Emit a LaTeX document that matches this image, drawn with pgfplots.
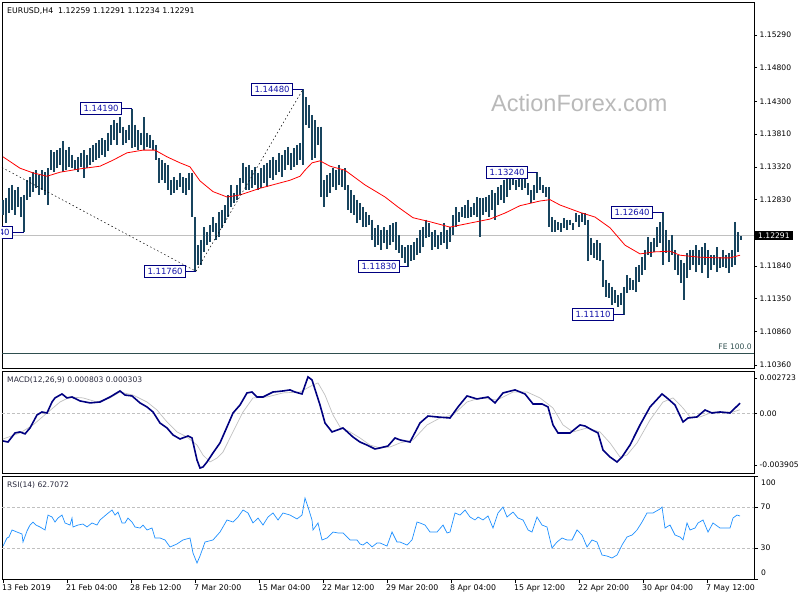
\documentclass[border=0pt]{standalone}
\usepackage{pgfplots}
\usepackage{pgfplotstable}
\pgfplotsset{compat=1.18}
\usepackage{fontspec}
\setmainfont{DejaVu Sans}
\newfontfamily\wmfont{Liberation Sans}
\definecolor{barc}{RGB}{24,68,94}
\definecolor{navyc}{RGB}{0,0,128}
\definecolor{lblc}{RGB}{20,20,170}
\definecolor{silv}{RGB}{192,192,192}
\definecolor{rsic}{RGB}{30,144,255}
\definecolor{fec}{RGB}{47,79,79}
\definecolor{wmc}{RGB}{185,185,185}
\definecolor{txc}{RGB}{40,40,60}

\pgfplotstableread{
lo hi
1.1260 1.1283
1.1248 1.1286
1.1263 1.1301
1.1268 1.1305
1.1260 1.1297
1.1272 1.1302
1.1257 1.1287
1.1234 1.1290
1.1283 1.1312
1.1287 1.1317
1.1295 1.1324
1.1301 1.1327
1.1290 1.1320
1.1297 1.1327
1.1290 1.1324
1.1275 1.1330
1.1327 1.1357
1.1324 1.1354
1.1330 1.1357
1.1335 1.1360
1.1324 1.1371
1.1327 1.1357
1.1332 1.1362
1.1330 1.1350
1.1327 1.1342
1.1324 1.1347
1.1332 1.1353
1.1315 1.1357
1.1330 1.1350
1.1335 1.1360
1.1339 1.1365
1.1342 1.1368
1.1345 1.1372
1.1350 1.1375
1.1347 1.1372
1.1355 1.1383
1.1365 1.1395
1.1372 1.1402
1.1365 1.1398
1.1383 1.1406
1.1365 1.1392
1.1368 1.1387
1.1372 1.1395
1.1360 1.1419
1.1362 1.1395
1.1357 1.1387
1.1365 1.1383
1.1357 1.1406
1.1362 1.1383
1.1360 1.1380
1.1357 1.1372
1.1342 1.1365
1.1308 1.1345
1.1312 1.1342
1.1308 1.1338
1.1297 1.1335
1.1290 1.1312
1.1293 1.1317
1.1297 1.1312
1.1302 1.1323
1.1293 1.1317
1.1290 1.1315
1.1297 1.1323
1.1257 1.1323
1.1176 1.1257
1.1185 1.1215
1.1185 1.1223
1.1205 1.1242
1.1215 1.1234
1.1220 1.1245
1.1234 1.1257
1.1223 1.1248
1.1227 1.1264
1.1240 1.1268
1.1248 1.1275
1.1257 1.1290
1.1272 1.1305
1.1278 1.1293
1.1283 1.1305
1.1290 1.1315
1.1308 1.1338
1.1297 1.1332
1.1297 1.1335
1.1300 1.1327
1.1305 1.1332
1.1297 1.1323
1.1300 1.1330
1.1308 1.1335
1.1302 1.1338
1.1315 1.1342
1.1312 1.1347
1.1320 1.1342
1.1324 1.1353
1.1317 1.1350
1.1327 1.1357
1.1335 1.1362
1.1327 1.1353
1.1332 1.1360
1.1335 1.1365
1.1342 1.1368
1.1335 1.1448
1.1395 1.1436
1.1390 1.1424
1.1342 1.1409
1.1345 1.1402
1.1365 1.1392
1.1287 1.1392
1.1272 1.1312
1.1287 1.1320
1.1293 1.1323
1.1302 1.1330
1.1297 1.1327
1.1305 1.1335
1.1302 1.1327
1.1297 1.1330
1.1268 1.1305
1.1263 1.1297
1.1260 1.1290
1.1248 1.1283
1.1253 1.1278
1.1242 1.1272
1.1242 1.1264
1.1245 1.1260
1.1223 1.1253
1.1212 1.1241
1.1215 1.1245
1.1208 1.1238
1.1218 1.1242
1.1210 1.1238
1.1215 1.1245
1.1220 1.1248
1.1208 1.1250
1.1203 1.1230
1.1196 1.1215
1.1188 1.1212
1.1182 1.1215
1.1191 1.1215
1.1193 1.1220
1.1200 1.1226
1.1203 1.1238
1.1212 1.1242
1.1226 1.1253
1.1227 1.1248
1.1208 1.1234
1.1212 1.1238
1.1210 1.1230
1.1215 1.1234
1.1218 1.1248
1.1210 1.1238
1.1220 1.1242
1.1230 1.1260
1.1242 1.1272
1.1250 1.1264
1.1257 1.1272
1.1255 1.1275
1.1255 1.1283
1.1257 1.1272
1.1260 1.1278
1.1257 1.1287
1.1227 1.1286
1.1260 1.1286
1.1264 1.1287
1.1257 1.1290
1.1268 1.1297
1.1253 1.1293
1.1275 1.1302
1.1283 1.1305
1.1278 1.1312
1.1287 1.1315
1.1297 1.1320
1.1305 1.1323
1.1297 1.1312
1.1302 1.1317
1.1297 1.1320
1.1300 1.1323
1.1290 1.1308
1.1278 1.1297
1.1283 1.1305
1.1293 1.1324
1.1297 1.1317
1.1293 1.1305
1.1287 1.1302
1.1242 1.1302
1.1234 1.1257
1.1235 1.1253
1.1238 1.1250
1.1234 1.1248
1.1240 1.1255
1.1238 1.1253
1.1245 1.1253
1.1238 1.1248
1.1250 1.1263
1.1242 1.1260
1.1250 1.1263
1.1245 1.1263
1.1191 1.1253
1.1200 1.1226
1.1196 1.1218
1.1193 1.1223
1.1191 1.1218
1.1153 1.1193
1.1138 1.1163
1.1136 1.1159
1.1126 1.1153
1.1128 1.1148
1.1123 1.1140
1.1126 1.1144
1.1111 1.1153
1.1144 1.1170
1.1148 1.1166
1.1148 1.1163
1.1145 1.1182
1.1160 1.1185
1.1170 1.1197
1.1178 1.1208
1.1200 1.1227
1.1197 1.1220
1.1205 1.1226
1.1212 1.1242
1.1218 1.1250
1.1185 1.1264
1.1203 1.1238
1.1190 1.1223
1.1200 1.1230
1.1178 1.1208
1.1170 1.1200
1.1159 1.1193
1.1133 1.1188
1.1166 1.1203
1.1178 1.1208
1.1185 1.1208
1.1175 1.1215
1.1185 1.1208
1.1173 1.1212
1.1185 1.1218
1.1166 1.1208
1.1178 1.1200
1.1185 1.1200
1.1175 1.1212
1.1181 1.1197
1.1182 1.1208
1.1181 1.1200
1.1173 1.1203
1.1182 1.1208
1.1185 1.1250
1.1205 1.1234
1.1223 1.1229
}\bars

\pgfplotsset{
  mtaxis/.style={
    scale only axis, width=752pt, xmin=-0.5, xmax=375.5,
    anchor=north west,
    axis line style={black, line width=0.8pt},
    tick style={black, line width=0.6pt},
    major tick length=3pt, tick align=outside,
    ytick pos=right, yticklabel pos=right,
    yticklabel style={font=\fontsize{7.6}{9}\selectfont, anchor=west, inner sep=1pt, xshift=1.5pt},
    scaled y ticks=false,
    clip mode=individual,
  },
}
\tikzset{
  lbl/.style={draw=navyc, fill=white, text=lblc, line width=0.7pt, inner xsep=3pt, inner ysep=1pt, minimum height=12pt, font=\fontsize{8.5}{9}\selectfont, anchor=east},
}

\begin{document}
\begin{tikzpicture}
\path[use as bounding box] (0,0) rectangle (800pt,-600pt);

% ---------- main price panel ----------
\begin{axis}[mtaxis, at={(2pt,-2pt)}, height=366pt,
  ymin=1.10315, ymax=1.15783, xtick=\empty,
  ytick={1.1036,1.1086,1.1135,1.1184,1.1283,1.1332,1.1381,1.1430,1.1480,1.1529},
  yticklabels={1.10360,1.10860,1.11350,1.11840,1.12830,1.13320,1.13810,1.14300,1.14800,1.15290}]
\addplot[silv, line width=0.8pt, forget plot] coordinates {(-0.5,1.12291) (375.5,1.12291)};
\addplot[fec, line width=0.8pt, forget plot] coordinates {(-0.5,1.1054) (375.5,1.1054)};
\addplot[draw=none, mark=none, forget plot,
  error bars/.cd, y dir=minus, y explicit, error mark=none,
  error bar style={draw=barc, line width=1.25pt}]
  table[x expr=\coordindex*1.5, y=hi, y error minus expr=\thisrow{hi}-\thisrow{lo}] {\bars};
\addplot[red, line width=0.8pt] coordinates {
(0,1.1347) (8.5,1.1330) (15,1.1323) (22,1.1318) (28.5,1.1324) (38.5,1.1329) (48.5,1.1333)
(55,1.1342) (62,1.1353) (70,1.1357) (76,1.1357) (82,1.1347) (88.5,1.1338) (93.5,1.1332)
(98.5,1.1311) (105,1.1295) (112,1.1287) (118.5,1.1290) (128.5,1.1300) (143.5,1.1312)
(148.5,1.1318) (151,1.1327) (154.5,1.1338) (158.5,1.1341) (163.5,1.1333) (171,1.1327)
(181,1.1305) (191,1.1287) (197.5,1.1272) (205,1.1256) (213.5,1.1250) (223.5,1.1242)
(233.5,1.1248) (243.5,1.1254) (251,1.1263) (258.5,1.1274) (268.5,1.1281) (273.5,1.1283)
(278.5,1.1275) (288.5,1.1264) (296,1.1257) (303.5,1.1241) (311,1.1215) (318.5,1.1202)
(326,1.1205) (333.5,1.1206) (338.5,1.1200) (348.5,1.1197) (358.5,1.1196) (363.5,1.1196) (368.5,1.1200)};
\addplot[black, line width=0.5pt, dash pattern=on 1.5pt off 2.5pt] coordinates {(-0.5,1.1331) (96.5,1.1176)};
\addplot[black, line width=0.5pt, dash pattern=on 1.5pt off 2.5pt] coordinates {(96.5,1.1176) (150,1.1448)};
% swing labels
\begin{scope}
\clip (rel axis cs:0,0) rectangle (rel axis cs:1,1);
\node[lbl] at (axis cs:5,1.12340) {1.12340};
\end{scope}
\draw[navyc, line width=0.7pt] (axis cs:5,1.12340) -- (axis cs:10.5,1.12340);
\node[lbl] at (axis cs:59.5,1.14190) {1.14190};
\draw[navyc, line width=0.7pt] (axis cs:59.5,1.14190) -- (axis cs:64.5,1.14190);
\node[lbl] at (axis cs:145,1.14480) {1.14480};
\draw[navyc, line width=0.7pt] (axis cs:145,1.14480) -- (axis cs:150,1.14480);
\node[lbl] at (axis cs:91.5,1.11760) {1.11760};
\draw[navyc, line width=0.7pt] (axis cs:91.5,1.11760) -- (axis cs:96.5,1.11760);
\node[lbl] at (axis cs:198.5,1.11830) {1.11830};
\draw[navyc, line width=0.7pt] (axis cs:198.5,1.11830) -- (axis cs:202.5,1.11830);
\node[lbl] at (axis cs:262.5,1.13240) {1.13240};
\draw[navyc, line width=0.7pt] (axis cs:262.5,1.13240) -- (axis cs:267,1.13240);
\node[lbl] at (axis cs:325,1.12640) {1.12640};
\draw[navyc, line width=0.7pt] (axis cs:325,1.12640) -- (axis cs:330,1.12640);
\node[lbl] at (axis cs:305.5,1.11110) {1.11110};
\draw[navyc, line width=0.7pt] (axis cs:305.5,1.11110) -- (axis cs:310.5,1.11110);
\node[fill=black, text=white, anchor=west, inner xsep=3pt, inner ysep=1.5pt, font=\fontsize{7.6}{9}\selectfont] at ([xshift=1pt]axis cs:375.5,1.12291) {1.12291};
\end{axis}

% ---------- MACD panel ----------
\begin{axis}[mtaxis, at={(2pt,-371pt)}, height=102pt,
  ymin=-0.00452, ymax=0.00325, xtick=\empty,
  ytick={-0.003905,0,0.002723}, yticklabels={-0.003905,0.00,0.002723}]
\addplot[silv, line width=0.6pt, dash pattern=on 3pt off 2pt, forget plot] coordinates {(-0.5,0) (375.5,0)};
\addplot[silv, line width=0.7pt] coordinates {
(0,-0.00193) (8.5,-0.00147) (15,-0.00086) (22,0.00005) (28.5,0.00089) (33.5,0.00127) (40,0.00120)
(47,0.00089) (53.5,0.00120) (58.5,0.00165) (65,0.00142) (72,0.00089) (77,0.00028) (82,-0.00063)
(87,-0.00139) (92,-0.00178) (97,-0.00239) (100,-0.00315) (103.5,-0.00368) (107,-0.00338) (110,-0.00292)
(115,-0.00139) (120,0.00013) (125,0.00120) (132,0.00127) (140,0.00158) (148.5,0.00165) (155,0.00219)
(157.5,0.00234) (161,0.00142) (165,-0.00010) (168.5,-0.00101) (173.5,-0.00139) (178.5,-0.00185)
(183.5,-0.00239) (188.5,-0.00261) (193.5,-0.00254) (198.5,-0.00223) (205,-0.00200) (212,-0.00086)
(218.5,-0.00033) (225,-0.00010) (232,0.00089) (238.5,0.00120) (247,0.00104) (255,0.00165) (262,0.00165)
(268.5,0.00120) (275,0.00043) (280,-0.00086) (285,-0.00139) (292,-0.00109) (298.5,-0.00139) (303.5,-0.00223)
(308.5,-0.00330) (312,-0.00315) (317,-0.00223) (323.5,-0.00048) (330,0.00089) (335,0.00120) (340,0.00043)
(343.5,-0.00025) (348.5,-0.00025) (355,0.00013) (365,0.00013) (368.5,0.00030)};
\addplot[navyc, line width=1.6pt] coordinates {
(0,-0.00208) (2.5,-0.00216) (6,-0.00147) (8.5,-0.00139) (11,-0.00154) (13.5,-0.00109) (17,-0.00010)
(19.5,0.00013) (22,0.00005) (24.5,0.00089) (26,0.00120) (29.5,0.00150) (32,0.00120) (34.5,0.00127)
(38.5,0.00097) (43.5,0.00082) (48.5,0.00089) (53.5,0.00127) (58.5,0.00173) (61,0.00142) (64.5,0.00135)
(68.5,0.00082) (72,0.00051) (75,0.00013) (78.5,-0.00071) (82,-0.00109) (85,-0.00162) (88.5,-0.00193)
(92.5,-0.00170) (94.5,-0.00185) (97,-0.00353) (98.5,-0.00414) (100,-0.00406) (102,-0.00368)
(105,-0.00299) (108.5,-0.00223) (112,-0.00101) (115,0.00005) (118.5,0.00066) (122,0.00158)
(124.5,0.00165) (127,0.00127) (130,0.00127) (135,0.00165) (140,0.00173) (143.5,0.00181) (146,0.00165)
(149.5,0.00150) (152.5,0.00280) (154.5,0.00257) (158.5,0.00066) (161,-0.00071) (164.5,-0.00139)
(170,-0.00109) (175,-0.00178) (178.5,-0.00216) (182,-0.00239) (186,-0.00269) (188.5,-0.00261)
(192.5,-0.00246) (196,-0.00185) (198.5,-0.00200) (203.5,-0.00216) (208.5,-0.00071) (212.5,-0.00018)
(217,-0.00025) (223.5,-0.00033) (227.5,0.00051) (232,0.00135) (237,0.00112) (242.5,0.00127)
(246,0.00082) (250,0.00158) (256,0.00181) (261,0.00150) (265,0.00074) (269.5,0.00074) (272.5,0.00051)
(275,-0.00086) (277.5,-0.00147) (283.5,-0.00147) (288.5,-0.00086) (291,-0.00094) (294.5,-0.00124)
(297.5,-0.00147) (300,-0.00277) (303.5,-0.00330) (307,-0.00368) (309.5,-0.00330) (313.5,-0.00239)
(318.5,-0.00086) (323.5,0.00051) (329.5,0.00150) (332,0.00120) (336,0.00066) (340,-0.00063)
(342.5,-0.00033) (347,-0.00025) (351,0.00028) (354.5,0.00005) (358.5,0.00013) (363.5,0.00005) (368.5,0.00080)};
\node[anchor=west, inner sep=0pt, text=txc, font=\fontsize{7.6}{9}\selectfont] at ([xshift=5pt,yshift=-9pt]rel axis cs:0,1) {MACD(12,26,9) 0.000803 0.000303};
\end{axis}

% ---------- RSI panel ----------
\begin{axis}[mtaxis, at={(2pt,-476pt)}, height=103pt,
  ymin=0, ymax=100, major tick length=4pt,
  ytick={0,30,70,100}, yticklabels={,30,70,},
  xtick={0,32,64,96,128,160,192,224,256,288,320,352},
  xticklabels={13 Feb 2019,21 Feb 04:00,28 Feb 12:00,7 Mar 20:00,15 Mar 04:00,22 Mar 12:00,29 Mar 20:00,8 Apr 04:00,15 Apr 12:00,22 Apr 20:00,30 Apr 04:00,7 May 12:00},
  xtick pos=bottom,
  xticklabel style={font=\fontsize{7.8}{9}\selectfont, anchor=north west, inner sep=0pt, xshift=-1pt, yshift=-1.5pt}]
\addplot[silv, line width=0.6pt, dash pattern=on 3pt off 2pt, forget plot] coordinates {(-0.5,30) (375.5,30)};
\addplot[silv, line width=0.6pt, dash pattern=on 3pt off 2pt, forget plot] coordinates {(-0.5,70) (375.5,70)};
\addplot[rsic, line width=0.7pt] coordinates {
(0,32.0) (2,39.8) (3,40.8) (4.5,47.6) (7,45.6) (9.5,43.7) (10,35.9) (12,46.6) (13.5,52.4) (15,55.3)
(16.5,52.4) (18.5,50.5) (21,47.6) (22.5,62.1) (24.5,60.2) (26,55.3) (27.5,59.2) (29.5,62.1) (31,54.4)
(33.5,52.4) (34.5,59.2) (35,50.5) (37.5,52.4) (40,53.4) (42,50.5) (44.5,54.4) (47,52.4) (48.5,57.3)
(52,63.1) (54.5,67.0) (56,62.1) (57.5,65.0) (59.5,54.4) (61,54.4) (62.5,59.2) (64.5,55.3) (66,50.5)
(68.5,49.5) (70,52.4) (72,47.6) (74.5,49.5) (76,39.8) (78.5,39.8) (81,37.9) (83.5,31.1) (87,34.0)
(90,37.9) (93.5,39.8) (95,25.2) (97,15.5) (98.5,22.3) (101,35.9) (105,37.9) (108.5,45.6) (112,57.3)
(115,55.3) (117.5,60.2) (120,67.0) (122.5,64.1) (125,54.4) (127.5,59.2) (130,52.4) (132.5,60.2)
(135,64.1) (137.5,57.3) (140,64.1) (143.5,62.1) (147,58.3) (149.5,62.1) (151,78.6) (152.5,69.9)
(154.5,57.3) (155,47.6) (157.5,54.4) (159.5,37.9) (162,39.8) (165,45.6) (167.5,44.7) (170,44.7)
(173.5,37.9) (177,37.9) (178.5,34.0) (180,33.0) (182,35.9) (184.5,31.1) (187,35.0) (188.5,35.0)
(192,32.0) (194.5,45.6) (197,35.9) (198.5,35.9) (202,33.0) (204.5,37.9) (207,55.3) (208.5,54.4)
(211,52.4) (213.5,45.6) (217,45.6) (220,52.4) (222,44.7) (223.5,45.6) (226,64.1) (228.5,62.1)
(231,67.0) (233.5,60.2) (236,57.3) (237.5,60.2) (240,57.3) (242.5,61.2) (245,49.5) (247.5,64.1)
(250,69.9) (252,60.2) (255,65.0) (257.5,59.2) (260,57.3) (262.5,47.6) (264.5,45.6) (267,60.2)
(269.5,52.4) (272,50.5) (274.5,30.1) (277,35.9) (279.5,39.8) (282,37.9) (284.5,37.9) (287,47.6)
(289.5,42.7) (292,31.1) (294.5,37.9) (297,35.9) (299.5,23.3) (302,22.3) (304.5,20.4) (307,23.3)
(309.5,33.0) (312,40.8) (314.5,42.7) (317,47.6) (319.5,55.3) (322,64.1) (325,64.1) (328.5,68.0)
(329.5,69.9) (331,49.5) (333.5,52.4) (336,42.7) (338.5,40.8) (340,37.9) (342,54.4) (343.5,47.6)
(346,49.5) (347.5,54.4) (350,57.3) (352.5,45.6) (355,54.4) (358.5,49.5) (361,49.5) (363.5,49.5)
(365,59.2) (367,62.1) (368.5,61.2)};
\node[anchor=west, inner sep=0pt, text=txc, font=\fontsize{7.6}{9}\selectfont] at ([xshift=5pt,yshift=-9pt]rel axis cs:0,1) {RSI(14) 62.7072};
\node[anchor=west, inner sep=0pt, font=\fontsize{7.6}{9}\selectfont] at ([xshift=7pt,yshift=-7pt]rel axis cs:1,1) {100};
\node[anchor=west, inner sep=0pt, font=\fontsize{7.6}{9}\selectfont] at ([xshift=7pt,yshift=6pt]rel axis cs:1,0) {0};
\end{axis}

% ---------- texts ----------
\node[anchor=west, inner sep=0pt, font=\fontsize{7.8}{9}\selectfont] at (7pt,-11pt) {EURUSD,H4\ \ 1.12259 1.12291 1.12234 1.12291};
\node[anchor=west, inner sep=0pt, text=wmc, font=\wmfont\fontsize{23.5}{26}\selectfont] at (491pt,-103pt) {ActionForex.com};
\node[anchor=east, inner sep=0pt, text=fec, font=\fontsize{7.6}{9}\selectfont] at (752pt,-347pt) {FE 100.0};
\end{tikzpicture}
\end{document}
